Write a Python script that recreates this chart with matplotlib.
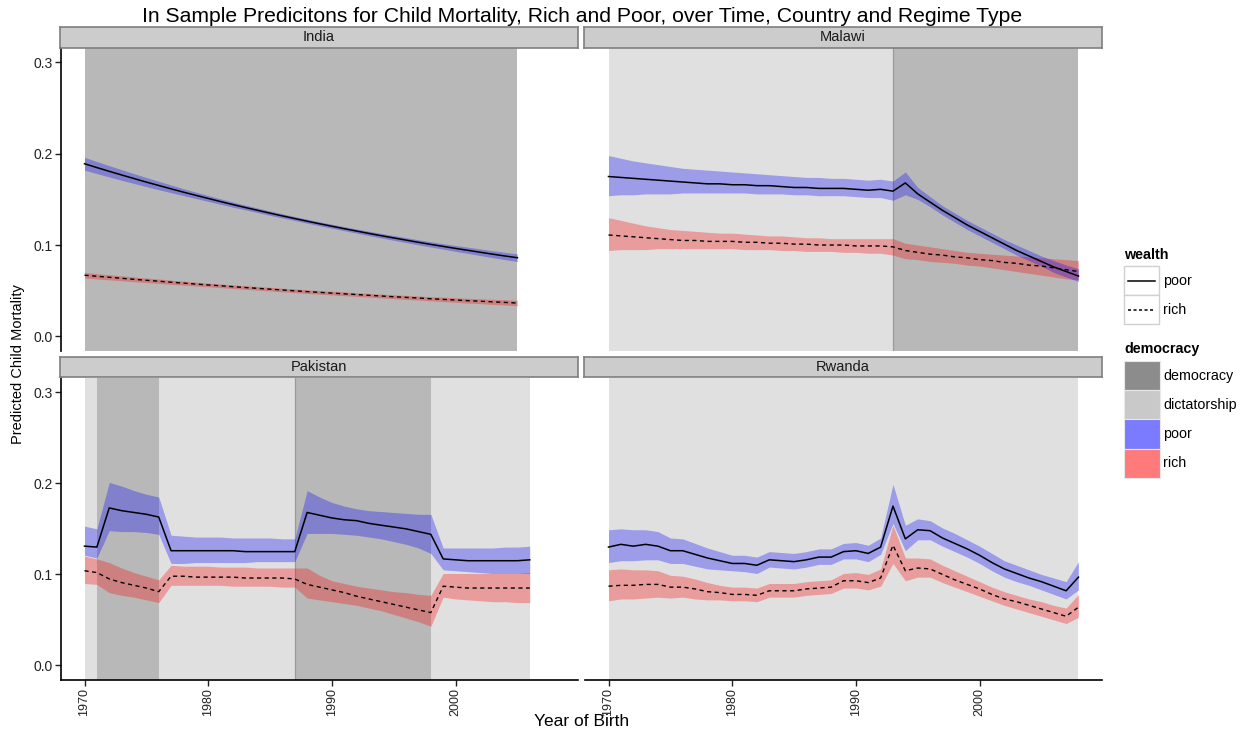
import matplotlib
matplotlib.use("Agg")
import matplotlib.pyplot as plt
from matplotlib.patches import Rectangle
from matplotlib.lines import Line2D

plt.rcParams['font.family'] = ['Liberation Sans', 'DejaVu Sans']

# ---- data ----
india_years = list(range(1970, 2006))
india_poor = [0.1890, 0.1848, 0.1807, 0.1767, 0.1728, 0.1689, 0.1652, 0.1615, 0.1579, 0.1544,
              0.1510, 0.1476, 0.1443, 0.1411, 0.1380, 0.1349, 0.1319, 0.1290, 0.1261, 0.1233,
              0.1206, 0.1179, 0.1153, 0.1127, 0.1102, 0.1078, 0.1054, 0.1030, 0.1007, 0.0985,
              0.0963, 0.0942, 0.0921, 0.0900, 0.0880, 0.0861]
india_poor_hw = [0.0070, 0.0066, 0.0062, 0.0058, 0.0054, 0.0050, 0.0046, 0.0042, 0.0038, 0.0035,
                 0.0032, 0.0030, 0.0028, 0.0026, 0.0025, 0.0024, 0.0023, 0.0022, 0.0022, 0.0022,
                 0.0022, 0.0022, 0.0023, 0.0024, 0.0025, 0.0026, 0.0027, 0.0028, 0.0029, 0.0030,
                 0.0032, 0.0034, 0.0036, 0.0038, 0.0040, 0.0042]
india_rich = [0.0670, 0.0658, 0.0647, 0.0636, 0.0625, 0.0614, 0.0604, 0.0593, 0.0583, 0.0573,
              0.0563, 0.0554, 0.0544, 0.0535, 0.0526, 0.0517, 0.0508, 0.0499, 0.0490, 0.0482,
              0.0474, 0.0466, 0.0458, 0.0450, 0.0442, 0.0434, 0.0427, 0.0420, 0.0412, 0.0405,
              0.0398, 0.0391, 0.0385, 0.0378, 0.0372, 0.0365]
india_rich_hw = [0.0030, 0.0029, 0.0028, 0.0027, 0.0026, 0.0025, 0.0024, 0.0023, 0.0022, 0.0021,
                 0.0020, 0.0020, 0.0020, 0.0020, 0.0020, 0.0020, 0.0020, 0.0020, 0.0020, 0.0020,
                 0.0020, 0.0020, 0.0020, 0.0020, 0.0021, 0.0021, 0.0022, 0.0022, 0.0023, 0.0024,
                 0.0025, 0.0026, 0.0027, 0.0028, 0.0029, 0.0030]
india_poor_lo = [v - h for v, h in zip(india_poor, india_poor_hw)]
india_poor_hi = [v + h for v, h in zip(india_poor, india_poor_hw)]
india_rich_lo = [v - h for v, h in zip(india_rich, india_rich_hw)]
india_rich_hi = [v + h for v, h in zip(india_rich, india_rich_hw)]

malawi_years = list(range(1970, 2009))
malawi_poor = [0.175, 0.174, 0.173, 0.172, 0.171, 0.170, 0.169, 0.168, 0.167, 0.167,
               0.166, 0.166, 0.165, 0.165, 0.164, 0.163, 0.163, 0.162, 0.162, 0.162,
               0.161, 0.160, 0.161, 0.159, 0.168, 0.156, 0.147, 0.138, 0.130, 0.122,
               0.115, 0.108, 0.101, 0.094, 0.088, 0.082, 0.076, 0.071, 0.066]
malawi_poor_hi = [0.198, 0.195, 0.192, 0.190, 0.188, 0.186, 0.184, 0.183, 0.182, 0.181,
                  0.180, 0.179, 0.178, 0.177, 0.176, 0.175, 0.174, 0.174, 0.173, 0.173,
                  0.172, 0.171, 0.172, 0.170, 0.180, 0.163, 0.153, 0.143, 0.135, 0.127,
                  0.120, 0.113, 0.106, 0.100, 0.094, 0.088, 0.083, 0.078, 0.074]
malawi_poor_lo = [0.154, 0.155, 0.155, 0.156, 0.156, 0.156, 0.157, 0.157, 0.157, 0.157,
                  0.157, 0.157, 0.156, 0.156, 0.156, 0.155, 0.155, 0.154, 0.154, 0.154,
                  0.153, 0.152, 0.152, 0.149, 0.155, 0.150, 0.142, 0.133, 0.125, 0.117,
                  0.110, 0.103, 0.096, 0.089, 0.083, 0.077, 0.070, 0.065, 0.060]
malawi_rich = [0.111, 0.110, 0.109, 0.108, 0.107, 0.106, 0.105, 0.105, 0.104, 0.104,
               0.104, 0.103, 0.103, 0.102, 0.102, 0.101, 0.101, 0.100, 0.100, 0.100,
               0.099, 0.099, 0.099, 0.098, 0.094, 0.092, 0.090, 0.089, 0.087, 0.086,
               0.084, 0.083, 0.081, 0.080, 0.078, 0.077, 0.075, 0.073, 0.071]
malawi_rich_hi = [0.130, 0.127, 0.124, 0.121, 0.119, 0.117, 0.116, 0.115, 0.114, 0.113,
                  0.113, 0.112, 0.111, 0.110, 0.110, 0.109, 0.108, 0.108, 0.107, 0.107,
                  0.107, 0.107, 0.107, 0.107, 0.102, 0.100, 0.098, 0.096, 0.094, 0.092,
                  0.091, 0.090, 0.089, 0.088, 0.087, 0.086, 0.085, 0.084, 0.083]
malawi_rich_lo = [0.094, 0.095, 0.095, 0.095, 0.096, 0.096, 0.096, 0.096, 0.096, 0.096,
                  0.096, 0.095, 0.095, 0.095, 0.094, 0.094, 0.093, 0.093, 0.093, 0.092,
                  0.092, 0.091, 0.091, 0.089, 0.085, 0.084, 0.082, 0.081, 0.080, 0.078,
                  0.077, 0.075, 0.073, 0.071, 0.069, 0.067, 0.065, 0.063, 0.062]

pakistan_years = list(range(1970, 2007))
pakistan_poor = [0.131, 0.130, 0.173, 0.170, 0.168, 0.166, 0.163, 0.126, 0.126, 0.126,
                 0.126, 0.126, 0.126, 0.125, 0.125, 0.125, 0.125, 0.125, 0.168, 0.165,
                 0.162, 0.160, 0.159, 0.156, 0.154, 0.152, 0.150, 0.147, 0.144, 0.117,
                 0.116, 0.115, 0.115, 0.115, 0.115, 0.115, 0.116]
pakistan_poor_hi = [0.153, 0.150, 0.201, 0.197, 0.192, 0.188, 0.185, 0.143, 0.142, 0.141,
                    0.141, 0.141, 0.140, 0.140, 0.140, 0.140, 0.139, 0.139, 0.192, 0.185,
                    0.179, 0.175, 0.172, 0.170, 0.169, 0.168, 0.167, 0.166, 0.166, 0.129,
                    0.129, 0.129, 0.129, 0.129, 0.130, 0.130, 0.131]
pakistan_poor_lo = [0.121, 0.118, 0.148, 0.147, 0.147, 0.146, 0.144, 0.112, 0.112, 0.113,
                    0.113, 0.113, 0.113, 0.113, 0.114, 0.114, 0.114, 0.114, 0.145, 0.145,
                    0.145, 0.144, 0.143, 0.141, 0.139, 0.136, 0.133, 0.129, 0.123, 0.105,
                    0.104, 0.103, 0.102, 0.101, 0.101, 0.101, 0.101]
pakistan_rich = [0.104, 0.102, 0.095, 0.091, 0.088, 0.085, 0.081, 0.098, 0.098, 0.097,
                 0.097, 0.097, 0.097, 0.096, 0.096, 0.096, 0.096, 0.095, 0.089, 0.086,
                 0.083, 0.080, 0.076, 0.073, 0.070, 0.067, 0.064, 0.061, 0.058, 0.087,
                 0.086, 0.085, 0.085, 0.085, 0.085, 0.085, 0.085]
pakistan_rich_hi = [0.120, 0.117, 0.113, 0.107, 0.102, 0.098, 0.094, 0.110, 0.109, 0.109,
                    0.109, 0.108, 0.108, 0.108, 0.107, 0.107, 0.107, 0.107, 0.107, 0.099,
                    0.093, 0.090, 0.087, 0.085, 0.083, 0.081, 0.080, 0.078, 0.077, 0.101,
                    0.101, 0.101, 0.101, 0.101, 0.101, 0.101, 0.102]
pakistan_rich_lo = [0.090, 0.089, 0.080, 0.077, 0.075, 0.072, 0.069, 0.088, 0.088, 0.088,
                    0.088, 0.088, 0.087, 0.087, 0.087, 0.087, 0.086, 0.086, 0.074, 0.072,
                    0.070, 0.068, 0.066, 0.063, 0.060, 0.056, 0.052, 0.048, 0.043, 0.075,
                    0.073, 0.072, 0.071, 0.070, 0.070, 0.069, 0.069]

rwanda_years = list(range(1970, 2009))
rwanda_poor = [0.130, 0.133, 0.131, 0.133, 0.131, 0.126, 0.126, 0.122, 0.118, 0.115,
               0.112, 0.112, 0.110, 0.116, 0.115, 0.114, 0.116, 0.119, 0.119, 0.125,
               0.126, 0.123, 0.130, 0.175, 0.139, 0.149, 0.148, 0.140, 0.134, 0.128,
               0.121, 0.113, 0.106, 0.101, 0.096, 0.092, 0.087, 0.082, 0.097]
rwanda_poor_hi = [0.149, 0.150, 0.149, 0.149, 0.147, 0.140, 0.139, 0.134, 0.129, 0.125,
                  0.121, 0.121, 0.119, 0.125, 0.124, 0.123, 0.125, 0.128, 0.128, 0.134,
                  0.135, 0.132, 0.140, 0.199, 0.154, 0.161, 0.159, 0.151, 0.145, 0.138,
                  0.131, 0.123, 0.115, 0.110, 0.105, 0.100, 0.096, 0.092, 0.114]
rwanda_poor_lo = [0.113, 0.115, 0.115, 0.116, 0.116, 0.112, 0.112, 0.109, 0.106, 0.105,
                  0.104, 0.103, 0.101, 0.108, 0.107, 0.106, 0.108, 0.111, 0.111, 0.117,
                  0.117, 0.114, 0.122, 0.156, 0.126, 0.138, 0.138, 0.131, 0.125, 0.119,
                  0.112, 0.104, 0.097, 0.092, 0.088, 0.083, 0.078, 0.073, 0.083]
rwanda_rich = [0.087, 0.088, 0.088, 0.089, 0.089, 0.086, 0.086, 0.084, 0.081, 0.080,
               0.078, 0.078, 0.077, 0.082, 0.082, 0.082, 0.084, 0.085, 0.086, 0.093,
               0.093, 0.091, 0.096, 0.132, 0.104, 0.107, 0.106, 0.100, 0.094, 0.089,
               0.084, 0.078, 0.073, 0.070, 0.066, 0.062, 0.058, 0.054, 0.064]
rwanda_rich_hi = [0.105, 0.106, 0.105, 0.105, 0.104, 0.099, 0.098, 0.095, 0.091, 0.088,
                  0.086, 0.086, 0.085, 0.090, 0.090, 0.090, 0.092, 0.093, 0.094, 0.101,
                  0.102, 0.100, 0.106, 0.154, 0.118, 0.118, 0.117, 0.110, 0.104, 0.098,
                  0.092, 0.086, 0.081, 0.077, 0.073, 0.070, 0.066, 0.063, 0.078]
rwanda_rich_lo = [0.071, 0.073, 0.073, 0.074, 0.075, 0.074, 0.075, 0.073, 0.072, 0.072,
                  0.071, 0.071, 0.070, 0.075, 0.075, 0.075, 0.077, 0.078, 0.079, 0.085,
                  0.085, 0.083, 0.087, 0.112, 0.093, 0.097, 0.097, 0.091, 0.086, 0.081,
                  0.076, 0.071, 0.066, 0.062, 0.058, 0.054, 0.050, 0.046, 0.053]

# regime periods: (start, end, type)
india_regimes = [(1970, 2005, 'democracy')]
malawi_regimes = [(1970, 1993, 'dictatorship'), (1993, 2008, 'democracy')]
pakistan_regimes = [(1970, 1971, 'dictatorship'), (1971, 1976, 'democracy'),
                    (1976, 1987, 'dictatorship'), (1987, 1998, 'democracy'),
                    (1998, 2006, 'dictatorship')]
rwanda_regimes = [(1970, 2008, 'dictatorship')]

y_ticks = [0.0, 0.1, 0.2, 0.3]
x_ticks = [1970, 1980, 1990, 2000]

regime_fill = {'democracy': '#B8B8B8', 'dictatorship': '#E0E0E0'}

W, H = 1257, 733


def box(x0, y0, x1, y1):
    return [x0 / W, 1 - y1 / H, (x1 - x0) / W, (y1 - y0) / H]


panels = [
    ('India', india_years, india_poor, india_poor_lo, india_poor_hi,
     india_rich, india_rich_lo, india_rich_hi, india_regimes, [], (61, 48, 578, 351), 0, 0),
    ('Malawi', malawi_years, malawi_poor, malawi_poor_lo, malawi_poor_hi,
     malawi_rich, malawi_rich_lo, malawi_rich_hi, malawi_regimes, [1993], (585, 48, 1102, 351), 0, 1),
    ('Pakistan', pakistan_years, pakistan_poor, pakistan_poor_lo, pakistan_poor_hi,
     pakistan_rich, pakistan_rich_lo, pakistan_rich_hi, pakistan_regimes, [1987], (61, 378, 578, 680), 1, 0),
    ('Rwanda', rwanda_years, rwanda_poor, rwanda_poor_lo, rwanda_poor_hi,
     rwanda_rich, rwanda_rich_lo, rwanda_rich_hi, rwanda_regimes, [], (585, 378, 1102, 680), 1, 1),
]

fig = plt.figure(figsize=(W / 100, H / 100), dpi=100)

for (name, yrs, poor, plo, phi, rich, rlo, rhi, regimes, edges, pos, row, col) in panels:
    ax = fig.add_axes(box(*pos))
    ax.set_facecolor('white')
    for s, e, kind in regimes:
        ax.axvspan(s, e, color=regime_fill[kind], lw=0, zorder=0)
    for x in edges:
        ax.axvline(x, color='#9A9A9A', lw=0.9, zorder=0.5)
    ax.fill_between(yrs, rlo, rhi, color='#FF0000', alpha=0.3, lw=0, zorder=1)
    ax.fill_between(yrs, plo, phi, color='#0000FF', alpha=0.3, lw=0, zorder=1)
    ax.plot(yrs, poor, color='black', lw=1.1, zorder=2)
    ax.plot(yrs, rich, color='black', lw=1.0, ls=(0, (3, 2.5)), zorder=2)

    ax.set_xlim(1968.1, 2009.9)
    ax.set_ylim(-0.016, 0.3157)
    for sp in ['top', 'right']:
        ax.spines[sp].set_visible(False)
    ax.spines['left'].set_visible(col == 0)
    ax.spines['bottom'].set_visible(row == 1)
    for sp in ['left', 'bottom']:
        ax.spines[sp].set_linewidth(1.2)
    ax.tick_params(length=4, width=1, colors='#222222', pad=2)
    ax.tick_params(axis='y', labelsize=10)
    ax.tick_params(axis='x', labelsize=9)
    if col == 0:
        ax.set_yticks(y_ticks)
        ax.set_yticklabels(['%.1f' % v for v in y_ticks])
    else:
        ax.set_yticks([])
    if row == 1:
        ax.set_xticks(x_ticks)
        ax.set_xticklabels([str(v) for v in x_ticks], rotation=90, va='top')
    else:
        ax.set_xticks([])

    # facet strip
    sx0, sy0, sx1, sy1 = pos
    st = fig.add_axes(box(sx0 - 1, sy0 - 21, sx1, sy0 - 0.5))
    st.set_facecolor('#CCCCCC')
    st.set_xticks([])
    st.set_yticks([])
    for sp in st.spines.values():
        sp.set_color('#7F7F7F')
        sp.set_linewidth(1.2)
    st.text(0.5, 0.5, name, ha='center', va='center', fontsize=10.5, color='#1A1A1A',
            transform=st.transAxes)

fig.text(582 / W, 1 - 17 / H,
         'In Sample Predicitons for Child Mortality, Rich and Poor, over Time, Country and Regime Type',
         ha='center', va='center', fontsize=15.2)
fig.text(18 / W, 1 - 364 / H, 'Predicted Child Mortality', rotation=90,
         ha='center', va='center', fontsize=10.5)
fig.text(582 / W, 1 - 722 / H, 'Year of Birth', ha='center', va='center', fontsize=12.5)

# legend drawn in pixel coordinates
lg = fig.add_axes([0, 0, 1, 1])
lg.set_xlim(0, W)
lg.set_ylim(H, 0)
lg.axis('off')

lg.text(1124, 255, 'wealth', fontsize=10.3, fontweight='bold', va='center', ha='left')
for i, (lab, ls) in enumerate([('poor', '-'), ('rich', (0, (2, 1.6)))]):
    y0 = 266 + i * 29
    lg.add_patch(Rectangle((1124, y0), 35, 29, facecolor='white', edgecolor='#D0D0D0', lw=1))
    lg.add_line(Line2D([1128, 1155], [y0 + 14.5, y0 + 14.5], color='black', lw=1.1, ls=ls))
    lg.text(1163, y0 + 14.5, lab, fontsize=10.3, va='center', ha='left')

lg.text(1124, 349, 'democracy', fontsize=10.3, fontweight='bold', va='center', ha='left')
fill_keys = [('democracy', '#8C8C8C'), ('dictatorship', '#C9C9C9'),
             ('poor', '#7B7BFF'), ('rich', '#FF7B7B')]
for i, (lab, c) in enumerate(fill_keys):
    y0 = 361 + i * 29.2
    lg.add_patch(Rectangle((1124, y0), 36, 29.2, facecolor=c, edgecolor='#E8E8E8', lw=0.8))
    lg.text(1163, y0 + 14.6, lab, fontsize=10.3, va='center', ha='left')

fig.savefig('out.png', dpi=100)
